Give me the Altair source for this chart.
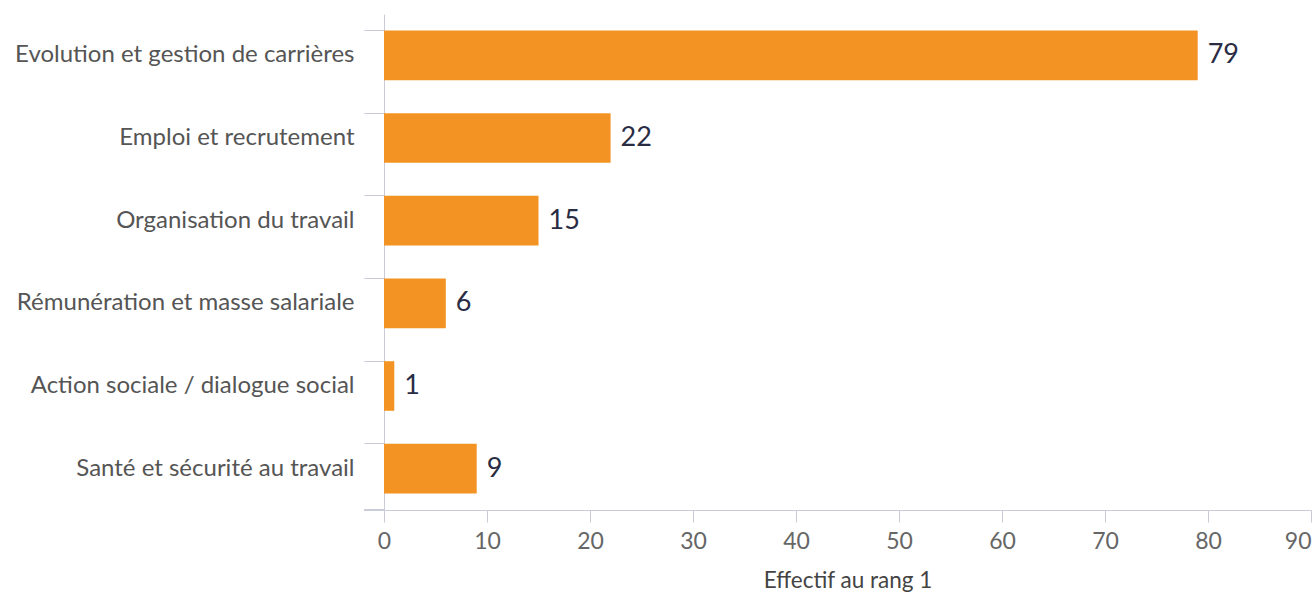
import altair as alt
import pandas as pd

categories = [
    "Evolution et gestion de carrières",
    "Emploi et recrutement",
    "Organisation du travail",
    "Rémunération et masse salariale",
    "Action sociale / dialogue social",
    "Santé et sécurité au travail",
]
values = [79, 22, 15, 6, 1, 9]
x_ticks = [0, 10, 20, 30, 40, 50, 60, 70, 80, 90]

df = pd.DataFrame({"cat": categories, "val": values})

W, H = 927, 496
axis_col = "#c9cbd9"

y_enc = alt.Y(
    "cat:N",
    sort=categories,
    title=None,
    scale=alt.Scale(paddingInner=0.4, paddingOuter=0.2),
    axis=alt.Axis(
        bandPosition=0,
        tickSize=20,
        tickColor=axis_col,
        domainColor=axis_col,
        labelPadding=10,
        labelFont="Lato",
        labelFontSize=24,
        labelColor="#555555",
        labelLimit=400,
    ),
)
x_enc = alt.X(
    "val:Q",
    title="Effectif au rang 1",
    scale=alt.Scale(domain=[0, 90], nice=False),
    axis=alt.Axis(
        values=x_ticks,
        grid=False,
        tickSize=12,
        tickColor=axis_col,
        domainColor=axis_col,
        labelFont="Lato",
        labelFontSize=23,
        labelColor="#666666",
        labelPadding=8,
        labelFlush=False,
        labelAlign=alt.ExprRef(expr="datum.value == 90 ? 'right' : 'center'"),
        titleFont="Lato",
        titleFontSize=22.5,
        titleFontWeight="normal",
        titleColor="#444444",
        titlePadding=16,
    ),
)

bars = alt.Chart(df).mark_bar(color="#F39323").encode(x=x_enc, y=y_enc)
labels = alt.Chart(df).mark_text(
    align="left", baseline="middle", dx=10, font="Lato", fontSize=27, color="#2a2c44"
).encode(x="val:Q", y=alt.Y("cat:N", sort=categories), text="val:Q")
bottom_tick = alt.Chart(df).mark_rule(color=axis_col).encode(
    x=alt.value(-20), x2=alt.value(0), y=alt.value(H)
)

chart = (
    alt.layer(bars, labels, bottom_tick)
    .properties(
        width=W,
        height=H,
        background="white",
        padding={"left": 384, "top": 14, "right": 4, "bottom": 86},
        autosize=alt.AutoSizeParams(type="none"),
    )
    .configure_view(stroke=None)
)

chart.save("out.html", embed_options={"renderer": "svg", "actions": False})
